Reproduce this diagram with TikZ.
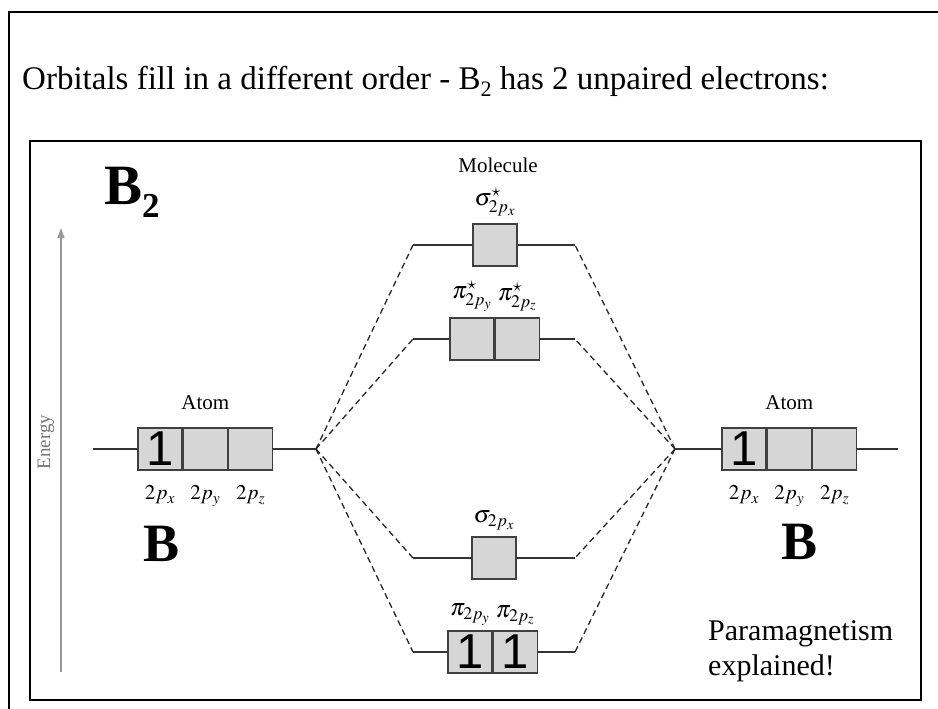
\documentclass[tikz,border=0pt]{standalone}
\usepackage{mathptmx}
\usepackage{fontspec}
\setmainfont{Liberation Serif}
\newfontfamily\digitfont{Liberation Sans}
\usetikzlibrary{positioning,arrows.meta}

\begin{document}
\begin{tikzpicture}
[
    x=1pt, y=1pt,
    orb/.style={draw=black!75, fill=black!16, line width=1.3pt, minimum width=44pt, minimum height=42pt, inner sep=0pt, font=\digitfont\fontsize{49}{49}\selectfont},
    lvl/.style={draw=black!80, line width=1.3pt},
    link/.style={draw=black!85, line width=1.3pt, dash pattern=on 6pt off 4pt},
    lab/.style={inner sep=0pt, font=\fontsize{21}{24}\selectfont},
    mo/.style={inner sep=0pt, font=\fontsize{24}{26}\selectfont},
    big/.style={inner sep=0pt, font=\bfseries\fontsize{54}{60}\selectfont},
]
\useasboundingbox (0,0) rectangle (938,709);

% frames
\draw[line width=2.5pt] (9,-5) -- (9,697) -- (945,697);
\draw[line width=2.5pt] (30,9) rectangle (921,568);

\node[anchor=base west, inner sep=0pt, font=\fontsize{33}{38}\selectfont] (title) at (22,619)
    {Orbitals fill in a different order - B\raisebox{-7pt}{\fontsize{22}{22}\selectfont 2} has 2 unpaired electrons:};

% energy axis
\coordinate (e0) at (61,37);
\coordinate (e1) at (61,481);
\draw[black!40, line width=1.5pt, -{Triangle[length=10pt,width=7pt]}] (e0) -- (e1);
\node[rotate=90, text=black!55, font=\fontsize{19}{19}\selectfont] (energy) at (46,267) {Energy};

\node[big, anchor=base west, font=\bfseries\fontsize{57}{60}\selectfont] (mol) at (104,504)
    {B\raisebox{-13pt}{\fontsize{35}{35}\selectfont 2}};

% left atom
\node[orb] (a1) at (160,260) {1};
\node[orb, right=0pt of a1] (a2) {};
\node[orb, right=0pt of a2] (a3) {};
\node[lab, above=17pt of a2] (atomL) {Atom};
\node[lab, below=15pt of a1] (pxL) {$2p_x$};
\node[lab, below=15pt of a2] (pyL) {$2p_y$};
\node[lab, below=15pt of a3] (pzL) {$2p_z$};
\node[big] (bL) at (162,165) {B};
\coordinate (endL) at (93,260);
\coordinate (jL) at (316,260);
\draw[lvl] (endL) -- (a1);
\draw[lvl] (a3) -- (jL);

% right atom
\node[orb] (b1) at (744,260) {1};
\node[orb, right=0pt of b1] (b2) {};
\node[orb, right=0pt of b2] (b3) {};
\node[lab, above=17pt of b2] (atomR) {Atom};
\node[lab, below=15pt of b1] (pxR) {$2p_x$};
\node[lab, below=15pt of b2] (pyR) {$2p_y$};
\node[lab, below=15pt of b3] (pzR) {$2p_z$};
\node[big] (bR) at (800,167) {B};
\coordinate (endR) at (898,260);
\coordinate (jR) at (675,260);
\draw[lvl] (b3) -- (endR);
\draw[lvl] (jR) -- (b1);

% molecule
\node[lab] (molec) at (498,544) {Molecule};

\node[orb] (ss) at (495,464) {};
\node[mo, above=7pt of ss] (ssl) {$\sigma^{\star}_{2p_x}$};

\node[orb] (ps1) at (472,370) {};
\node[orb, right=0pt of ps1] (ps2) {};
\node[mo, above=6pt of ps1] (ps1l) {$\pi^{\star}_{2p_y}$};
\node[mo, above=6pt of ps2] (ps2l) {$\pi^{\star}_{2p_z}$};

\node[orb] (sg) at (494,151) {};
\node[mo, above=6pt of sg] (sgl) {$\sigma_{2p_x}$};

\node[orb] (pb1) at (470,57) {1};
\node[orb, right=0pt of pb1] (pb2) {1};
\node[mo, above=5pt of pb1] (pb1l) {$\pi_{2p_y}$};
\node[mo, above=5pt of pb2] (pb2l) {$\pi_{2p_z}$};

% level ends
\coordinate (ssL) at (413,464); \coordinate (ssR) at (575,464);
\coordinate (psL) at (413,370); \coordinate (psR) at (575,370);
\coordinate (sgL) at (413,151); \coordinate (sgR) at (575,151);
\coordinate (pbL) at (413,57);  \coordinate (pbR) at (575,57);

\draw[lvl] (ssL) -- (ss) -- (ssR);
\draw[lvl] (psL) -- (ps1);
\draw[lvl] (ps2) -- (psR);
\draw[lvl] (sgL) -- (sg) -- (sgR);
\draw[lvl] (pbL) -- (pb1);
\draw[lvl] (pb2) -- (pbR);

\foreach \lv in {ss,ps,sg,pb}
{
    \draw[link] (jL) -- (\lv L);
    \draw[link] (jR) -- (\lv R);
}

\node[anchor=west, align=left, inner sep=0pt, font=\fontsize{30}{35}\selectfont] (para) at (708,58)
    {Paramagnetism\\explained!};
\end{tikzpicture}
\end{document}
